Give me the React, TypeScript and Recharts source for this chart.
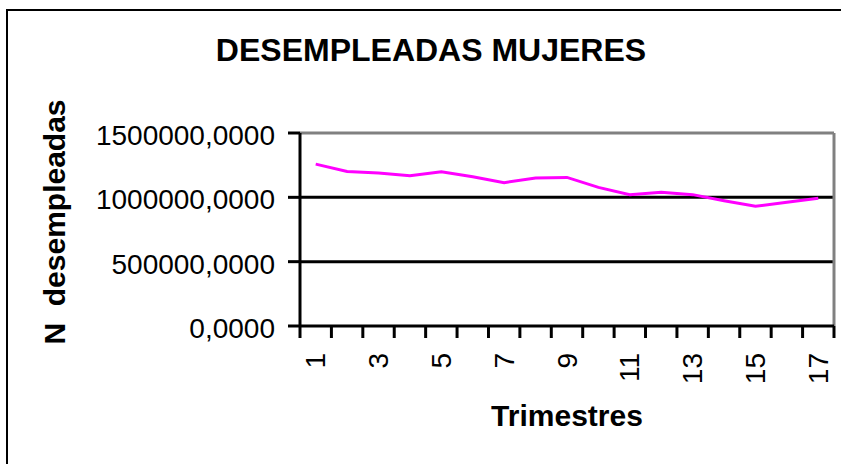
import React from "react";
import { LineChart, Line, XAxis, YAxis, CartesianGrid } from "recharts";

// trimestres 1..17
const quarters = [1, 2, 3, 4, 5, 6, 7, 8, 9, 10, 11, 12, 13, 14, 15, 16, 17];

// número de desempleadas
const womenUnemployed = [
    1258000, 1201000, 1189000, 1168000, 1199000, 1160000, 1114000, 1150000,
    1155000, 1077000, 1021000, 1039000, 1021000, 974000, 930000, 961000, 992000,
];

// segunda serie, pegada al eje
const secondSeries = [0, 0, 0, 0, 0, 0, 0, 0, 0, 0, 0, 0, 0, 0, 0, 0, 0];

const yTicks = [0, 500000, 1000000, 1500000];
const gridValues = [500000, 1000000];
// rótulos en trimestres impares, marcas entre categorías
const labelTicks = [1, 3, 5, 7, 9, 11, 13, 15, 17];
const boundaryTicks = [
    0.5, 1.5, 2.5, 3.5, 4.5, 5.5, 6.5, 7.5, 8.5, 9.5, 10.5, 11.5, 12.5, 13.5,
    14.5, 15.5, 16.5, 17.5,
];
const xTicks = [...boundaryTicks, ...labelTicks].sort((a, b) => a - b);

const data = quarters.map((q, i) => ({
    q,
    women: womenUnemployed[i],
    zero: secondSeries[i],
}));

const FONT = "Arial, 'Liberation Sans', Helvetica, sans-serif";

const QuarterTick = (props: any) => {
    const { x, y, payload } = props;
    const v = payload.value;
    if (!Number.isInteger(v)) {
        return <line x1={x} y1={y} x2={x} y2={y + 12} stroke="#000" strokeWidth={3} />;
    }
    const ty = y + 27;
    return (
        <text
            x={x}
            y={ty}
            transform={`rotate(-90, ${x}, ${ty})`}
            textAnchor="end"
            dominantBaseline="central"
            fontSize={28}
            fontFamily={FONT}
            fill="#000"
        >
            {v}
        </text>
    );
};

const TitleText = () => (
    <text
        x={431}
        y={61}
        textAnchor="middle"
        fontSize={32}
        fontWeight="bold"
        fontFamily={FONT}
        fill="#000"
    >
        DESEMPLEADAS MUJERES
    </text>
);

const XTitle = () => (
    <text
        x={567}
        y={426}
        textAnchor="middle"
        fontSize={30}
        fontWeight="bold"
        fontFamily={FONT}
        fill="#000"
    >
        Trimestres
    </text>
);

const YTitle = () => (
    <text
        x={65}
        y={222}
        transform="rotate(-90, 65, 222)"
        textAnchor="middle"
        fontSize={30}
        fontWeight="bold"
        fontFamily={FONT}
        fill="#000"
        style={{ whiteSpace: "pre" }}
    >
        {"N  desempleadas"}
    </text>
);

const App = () => {
    return (
        <div
            style={{
                position: "absolute",
                left: 0,
                top: 0,
                width: 841,
                height: 464,
                overflow: "hidden",
                background: "#fff",
            }}
        >
            <div
                style={{
                    position: "absolute",
                    left: 6,
                    top: 9,
                    width: 835,
                    height: 455,
                    borderLeft: "2px solid #000",
                    borderTop: "2px solid #000",
                    boxSizing: "border-box",
                }}
            />
            <div style={{ position: "absolute", left: 0, top: 0 }}>
                <LineChart
                    width={841}
                    height={464}
                    data={data}
                    margin={{ top: 132, right: 6, left: 200, bottom: 78 }}
                >
                    <CartesianGrid
                        vertical={false}
                        horizontalValues={gridValues}
                        stroke="#000"
                        strokeWidth={3}
                    />
                    <XAxis
                        xAxisId="top"
                        orientation="top"
                        type="number"
                        domain={[0.5, 17.5]}
                        height={1}
                        tick={false}
                        tickLine={false}
                        axisLine={{ stroke: "#808080", strokeWidth: 3 }}
                        label={{ content: TitleText }}
                    />
                    <YAxis
                        yAxisId="right"
                        orientation="right"
                        width={1}
                        domain={[0, 1500000]}
                        tick={false}
                        tickLine={false}
                        axisLine={{ stroke: "#808080", strokeWidth: 3 }}
                    />
                    <XAxis
                        dataKey="q"
                        type="number"
                        domain={[0.5, 17.5]}
                        ticks={xTicks}
                        interval={0}
                        height={60}
                        tickSize={0}
                        tickMargin={0}
                        tickLine={false}
                        tick={<QuarterTick />}
                        axisLine={{ stroke: "#000", strokeWidth: 3 }}
                        label={{ content: XTitle }}
                    />
                    <YAxis
                        width={100}
                        domain={[0, 1500000]}
                        ticks={yTicks}
                        interval={0}
                        tickFormatter={(v: number) => `${v},0000`}
                        tickSize={12}
                        tickMargin={13}
                        tick={{ fontSize: 28, fill: "#000", fontFamily: FONT, dy: 2 }}
                        tickLine={{ stroke: "#000", strokeWidth: 3 }}
                        axisLine={{ stroke: "#000", strokeWidth: 3 }}
                        label={{ content: YTitle }}
                    />
                    <Line
                        dataKey="zero"
                        stroke="#000080"
                        strokeWidth={2}
                        dot={false}
                        isAnimationActive={false}
                    />
                    <Line
                        dataKey="women"
                        stroke="#ff00ff"
                        strokeWidth={3}
                        dot={false}
                        isAnimationActive={false}
                    />
                </LineChart>
            </div>
        </div>
    );
};

export default App;
